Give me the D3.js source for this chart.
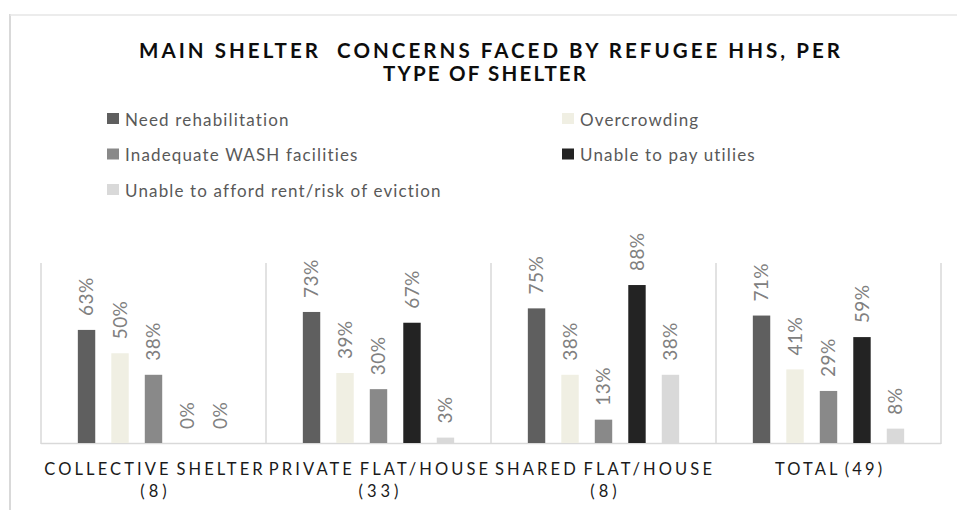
<!DOCTYPE html>
<html>
<head>
<meta charset="utf-8">
<script src="https://cdn.jsdelivr.net/npm/d3@7"></script>
<style>
  html, body { margin: 0; padding: 0; background: #fff; }
  svg { display: block; font-family: Lato, "Open Sans", sans-serif; }
</style>
</head>
<body>
<svg id="chart" width="957" height="510"></svg>
<script>
// Shelter types (two-line axis labels) and the concern series
const categories = ["COLLECTIVE SHELTER (8)", "PRIVATE FLAT/HOUSE (33)", "SHARED FLAT/HOUSE (8)", "TOTAL (49)"];
const categoryLines = [["COLLECTIVE SHELTER", "(8)"], ["PRIVATE FLAT/HOUSE", "(33)"], ["SHARED FLAT/HOUSE", "(8)"], ["TOTAL (49)"]];
const seriesNames = ["Need rehabilitation", "Overcrowding", "Inadequate WASH facilities", "Unable to pay utilies", "Unable to afford rent/risk of eviction"];
const seriesColors = ["#5f5f5f", "#f0efe3", "#898989", "#232323", "#d9d9d9"];

// Share of households (%) per concern, one array per series, in category order
const needRehabilitation = [63, 73, 75, 71];
const overcrowding       = [50, 39, 38, 41];
const inadequateWash     = [38, 30, 13, 29];
const unableToPayUtils   = [0, 67, 88, 59];
const unableToAffordRent = [0, 3, 38, 8];
const seriesValues = [needRehabilitation, overcrowding, inadequateWash, unableToPayUtils, unableToAffordRent];

const titleLines = ["MAIN SHELTER  CONCERNS FACED BY REFUGEE HHS, PER", "TYPE OF SHELTER"];

const svg = d3.select("#chart");

// chart frame
svg.append("line").attr("x1", 10).attr("x2", 10).attr("y1", 14).attr("y2", 510)
  .attr("stroke", "#d9d9d9").attr("stroke-width", 2);
svg.append("line").attr("x1", 10).attr("x2", 957).attr("y1", 15).attr("y2", 15)
  .attr("stroke", "#e6e6e6").attr("stroke-width", 1.5);

// title
const title = svg.append("text").attr("text-anchor", "middle").style("white-space", "pre")
  .attr("font-weight", 700).attr("font-size", 20.5).attr("fill", "#0d0d0d");
title.append("tspan").attr("x", 489.5).attr("y", 58).attr("textLength", 701)
  .attr("lengthAdjust", "spacing").text(titleLines[0]);
title.append("tspan").attr("x", 484.5).attr("y", 80.5).attr("textLength", 203)
  .attr("lengthAdjust", "spacing").text(titleLines[1]);

// legend: two columns, filled row by row
const legendPos = [[107, 113], [562, 113], [107, 148.5], [562, 148.5], [107, 184]];
const legend = svg.append("g");
seriesNames.forEach((name, i) => {
  const [lx, ly] = legendPos[i];
  legend.append("rect").attr("x", lx).attr("y", ly).attr("width", 12).attr("height", 11)
    .attr("fill", seriesColors[i]);
  legend.append("text").attr("x", lx + 18).attr("y", ly + 12.5)
    .attr("font-size", 17).attr("letter-spacing", 1.15).attr("fill", "#595959").text(name);
});

// scales
const x0 = d3.scaleBand().domain(categories).range([41, 941]).paddingInner(0).paddingOuter(0);
const x1 = d3.scaleBand().domain(d3.range(seriesNames.length)).range([0, x0.bandwidth()])
  .paddingInner(0.48).paddingOuter(1.1);
const y = d3.scaleLinear().domain([0, 100]).range([443, 263.5]);

// category separators and baseline
const grid = svg.append("g").attr("stroke", "#d9d9d9").attr("stroke-width", 1.5);
categories.concat([null]).forEach((c) => {
  const gx = c === null ? x0.range()[1] : x0(c);
  grid.append("line").attr("x1", gx).attr("x2", gx).attr("y1", 263).attr("y2", 444);
});
grid.append("line").attr("x1", 41).attr("x2", 941).attr("y1", 443.5).attr("y2", 443.5);

// bars with rotated value labels
const groups = svg.append("g").selectAll("g").data(categories).join("g")
  .attr("transform", d => `translate(${x0(d)},0)`);
groups.each(function (cat, ci) {
  const g = d3.select(this);
  seriesValues.forEach((vals, si) => {
    const v = vals[ci];
    g.append("rect").attr("x", x1(si)).attr("width", x1.bandwidth())
      .attr("y", y(v)).attr("height", y(0) - y(v)).attr("fill", seriesColors[si]);
    const cx = x1(si) + x1.bandwidth() / 2;
    g.append("text")
      .attr("transform", `translate(${cx},${y(v) - 14}) rotate(-90)`)
      .attr("dy", "0.36em").attr("font-size", 19).attr("letter-spacing", 0.4)
      .attr("fill", "#808080")
      .text(v + "%");
  });
});

// category labels, letter-spaced and centred under each group
categoryLines.forEach((lines, ci) => {
  const cx = x0(categories[ci]) + x0.bandwidth() / 2;
  const t = svg.append("text").attr("text-anchor", "middle").attr("font-size", 16.5)
    .attr("fill", "#1a1a1a");
  lines.forEach((ln, li) => {
    const sp = li === 0 ? 3.1 : 4;
    t.append("tspan").attr("x", cx).attr("dx", sp / 2).attr("y", 474.5 + li * 22)
      .attr("letter-spacing", sp).attr("word-spacing", -2.5).text(ln);
  });
});
</script>
</body>
</html>
